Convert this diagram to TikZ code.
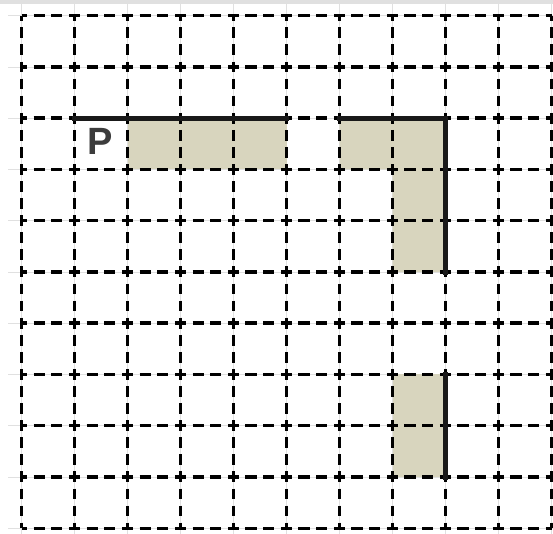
\documentclass[tikz,border=0pt]{standalone}
\usepackage{fontspec}
\setsansfont{Liberation Sans}
\definecolor{sandfill}{RGB}{216,213,190}
\definecolor{letter}{RGB}{60,60,60}
\tikzset{
    hdash/.style={line width=1.7pt,dash pattern=on 5.6pt off 3.23pt,dash phase=2.8pt},
    vdash/.style={line width=1.7pt,dash pattern=on 5.4pt off 3.14pt,dash phase=2.7pt},
    rim/.style={line width=2.6pt,line cap=rect,black!90},
    faint/.style={black!12,line width=0.4pt}
}
\begin{document}
\begin{tikzpicture}[x=26.5pt,y=-25.625pt]
    \useasboundingbox (-0.4057,-0.306) rectangle (10.028,10.113);
    \fill[black!12] (-0.4057,-0.306) rectangle (10.028,-0.23);
    \foreach \r in {0,...,10} \draw[faint] (-0.25,\r) -- (10.028,\r);
    \foreach \c in {0,...,10} \draw[faint] (\c,-0.23) -- (\c,10.113);
    \fill[sandfill] (2,2) rectangle (5,3);
    \fill[sandfill] (6,2) rectangle (8,3) (7,3) rectangle (8,5);
    \fill[sandfill] (7,7) rectangle (8,9);
    \foreach \r in {0,...,10} \draw[hdash] (0,\r) -- (10,\r);
    \foreach \c in {0,...,10} \draw[vdash] (\c,0) -- (\c,10);
    \draw[rim] (1,2) -- (5,2);
    \draw[rim] (6,2) -- (8,2) -- (8,5);
    \draw[rim] (8,7) -- (8,9);
    \node[text=letter,font=\sffamily\bfseries\fontsize{19}{19}\selectfont] (p) at (1.48,2.45) {P};
\end{tikzpicture}
\end{document}
